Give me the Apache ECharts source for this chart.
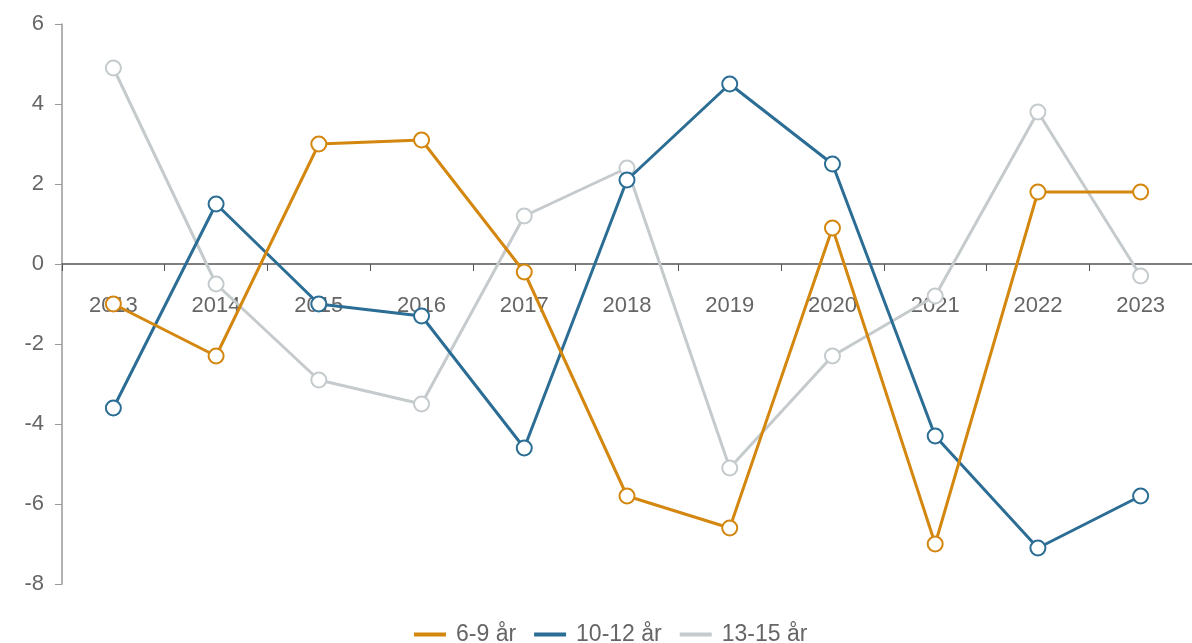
<!DOCTYPE html>
<html><head><meta charset="utf-8">
<script src="https://cdn.jsdelivr.net/npm/echarts@6/dist/echarts.min.js"></script>
<style>html,body{margin:0;padding:0;background:#fff}#c{width:1192px;height:643px}</style>
</head><body><div id="c"></div>
<script>
const years = ['2013','2014','2015','2016','2017','2018','2019','2020','2021','2022','2023'];
const s6_9 = [-1.0, -2.3, 3.0, 3.1, -0.2, -5.8, -6.6, 0.9, -7.0, 1.8, 1.8];
const s10_12 = [-3.6, 1.5, -1.0, -1.3, -4.6, 2.1, 4.5, 2.5, -4.3, -7.1, -5.8];
const s13_15 = [4.9, -0.5, -2.9, -3.5, 1.2, 2.4, -5.1, -2.3, -0.8, 3.8, -0.3];
const names = ['6-9 år','10-12 år','13-15 år'];
const colors = ['#d4870f','#2b6d94','#c5cbcd'];
const chart = echarts.init(document.getElementById('c'));
const mk = (name, data, color, z) => ({
  name, type: 'line', data, z,
  symbol: 'emptyCircle', symbolSize: 15,
  itemStyle: {color, borderWidth: 3.5},
  lineStyle: {color, width: 3},
  emphasis: {disabled: true}
});
const font = 'Liberation Sans, Arial';
chart.setOption({
  animation: false,
  color: colors,
  grid: {left: 62, top: 24, width: 1140, height: 560, containLabel: false},
  legend: {
    top: 618, left: 409, itemWidth: 32, itemHeight: 4, itemGap: 18,
    icon: 'rect',
    textStyle: {color: '#666', fontSize: 23, fontFamily: font, padding: [0, 0, 0, 5]},
    data: names
  },
  xAxis: {
    type: 'category', data: years, boundaryGap: true,
    position: 'bottom', offset: -320,
    axisLine: {onZero: false, lineStyle: {color: '#555', width: 1.5}},
    axisTick: {show: true, length: 7, inside: false, lineStyle: {color: '#555'}},
    axisLabel: {color: '#666', fontSize: 22, margin: 31, fontFamily: font},
    splitLine: {show: false}
  },
  yAxis: {
    type: 'value', min: -8, max: 6, interval: 2,
    axisLine: {show: true, lineStyle: {color: '#999', width: 1.5}},
    axisTick: {show: true, length: 7, lineStyle: {color: '#999'}},
    axisLabel: {color: '#666', fontSize: 22, margin: 18, fontFamily: font},
    splitLine: {show: false}
  },
  series: [
    mk(names[0], s6_9, colors[0], 3),
    mk(names[1], s10_12, colors[1], 2),
    mk(names[2], s13_15, colors[2], 1)
  ]
});
</script></body></html>
